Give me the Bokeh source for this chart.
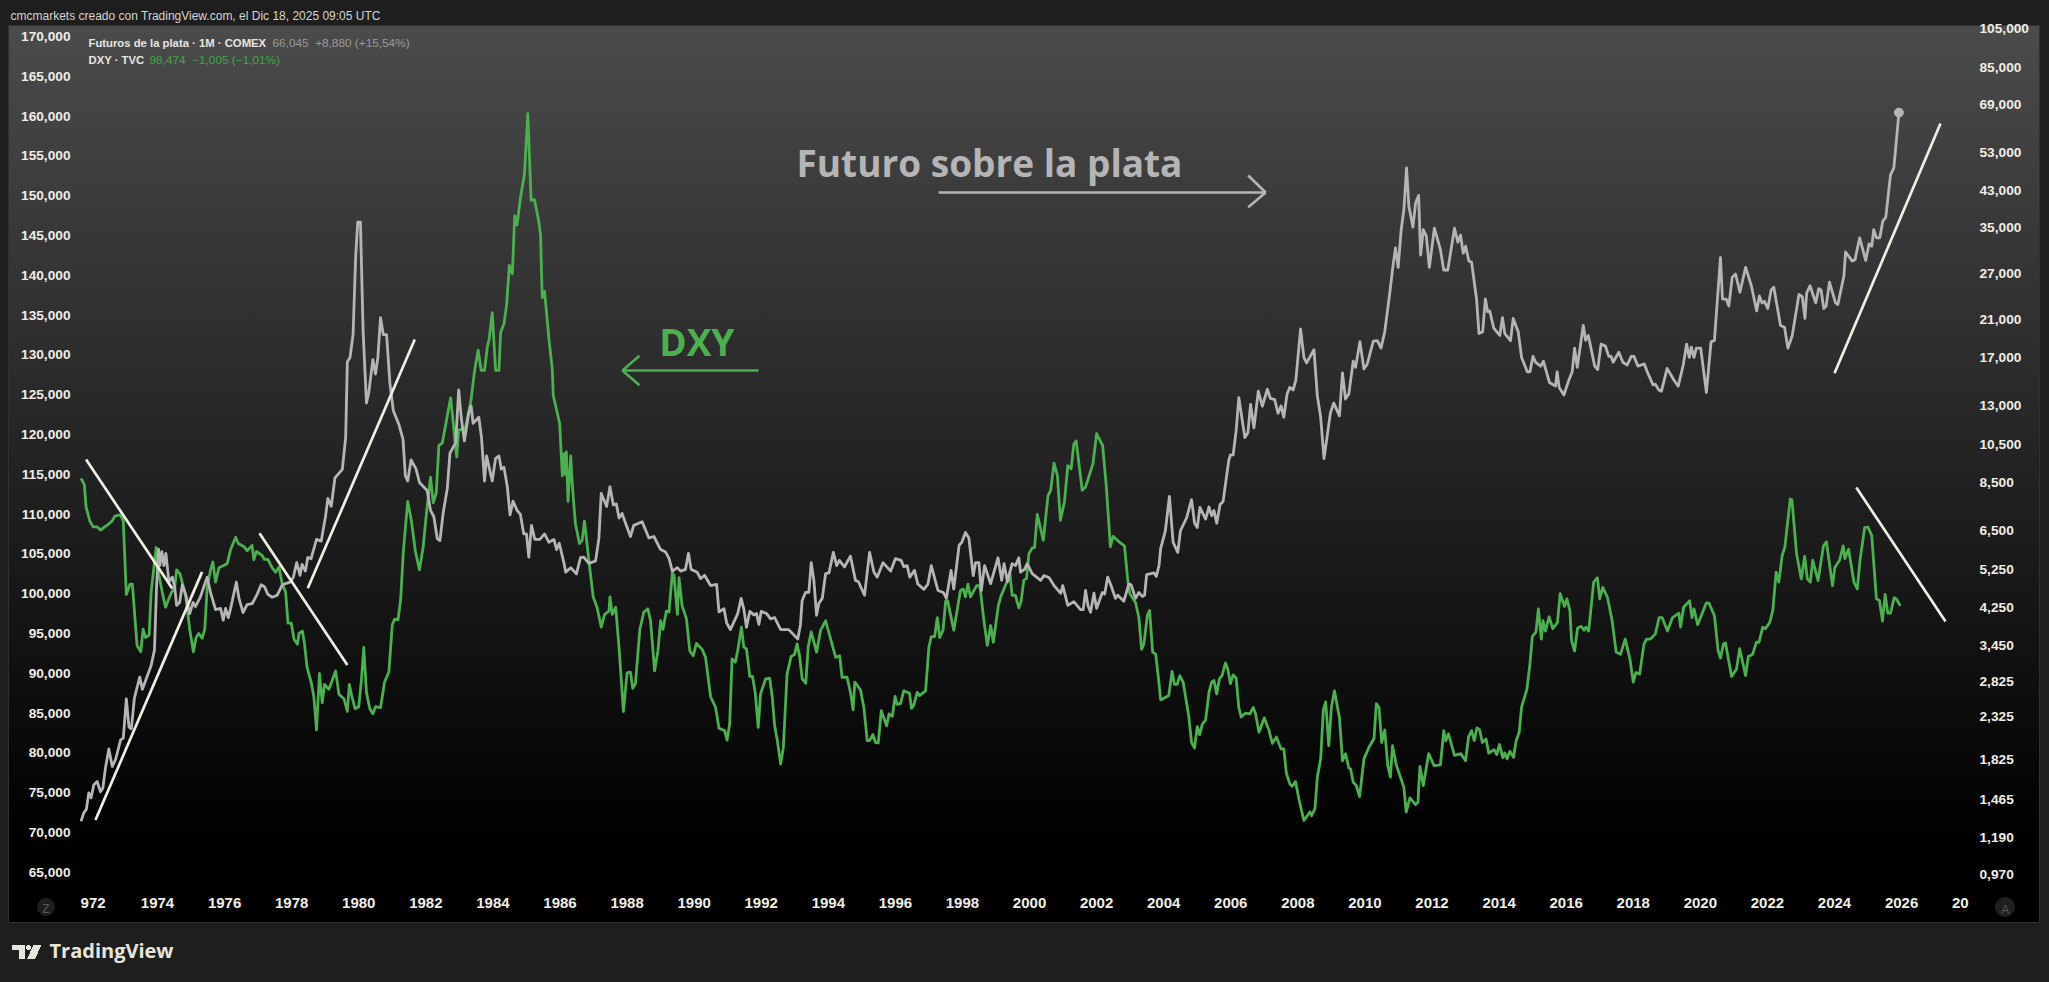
from bokeh.plotting import figure
from bokeh.models import (Range1d, LinearAxis, LogAxis, LogScale, FixedTicker, Label)
from bokeh.core.properties import value
from bokeh.embed import file_html
from bokeh.resources import INLINE

silver_points = [
(1971.72,1.30),(1971.80,1.36),(1971.88,1.39),(1971.95,1.52),(1972.02,1.48),(1972.10,1.59),(1972.20,1.62),(1972.30,1.53),(1972.37,1.56),(1972.45,1.75),(1972.55,1.94),(1972.65,1.76),(1972.75,1.83),(1972.90,2.04),(1972.98,2.06),(1973.07,2.56),(1973.15,2.19),(1973.22,2.17),(1973.31,2.57),(1973.47,2.89),(1973.55,2.70),(1973.67,2.87),(1973.81,3.08),(1973.91,3.36),(1973.97,4.75),(1974.03,5.87),(1974.07,5.36),(1974.13,5.79),(1974.19,5.36),(1974.25,5.74),(1974.34,4.90),(1974.44,5.03),(1974.51,4.77),(1974.57,4.30),(1974.66,4.37),(1974.74,4.82),(1974.84,4.57),(1974.96,4.11),(1975.06,4.37),(1975.13,4.27),(1975.28,4.51),(1975.48,5.03),(1975.58,4.62),(1975.73,4.20),(1975.88,4.23),(1975.96,3.96),(1976.03,4.23),(1976.11,4.02),(1976.18,4.23),(1976.35,4.89),(1976.43,4.47),(1976.55,4.13),(1976.67,4.32),(1976.82,4.34),(1976.97,4.57),(1977.09,4.82),(1977.19,4.77),(1977.29,4.57),(1977.42,4.50),(1977.57,4.55),(1977.72,4.82),(1977.97,4.90),(1978.05,5.03),(1978.15,5.45),(1978.25,5.08),(1978.31,5.40),(1978.41,5.20),(1978.48,5.61),(1978.58,5.57),(1978.74,6.20),(1978.88,6.14),(1979.01,7.05),(1979.08,7.78),(1979.18,7.45),(1979.29,8.72),(1979.51,9.14),(1979.61,10.9),(1979.66,16.6),(1979.74,17.0),(1979.83,19.3),(1979.91,30.0),(1979.97,36.0),(1980.05,36.0),(1980.13,19.7),(1980.23,13.2),(1980.30,14.0),(1980.42,16.8),(1980.50,15.5),(1980.57,17.0),(1980.65,21.2),(1980.73,19.3),(1980.83,19.3),(1980.93,14.7),(1981.03,12.67),(1981.20,11.7),(1981.32,10.8),(1981.39,8.81),(1981.46,8.57),(1981.56,9.63),(1981.71,9.15),(1981.81,8.50),(1982.04,8.13),(1982.14,7.28),(1982.24,7.03),(1982.34,6.23),(1982.42,6.16),(1982.52,7.2),(1982.64,8.22),(1982.72,10.0),(1982.89,10.6),(1982.98,14.2),(1983.06,12.1),(1983.15,10.7),(1983.28,12.5),(1983.35,13.0),(1983.41,11.8),(1983.58,12.2),(1983.66,10.9),(1983.75,8.57),(1983.81,9.85),(1983.98,8.57),(1984.08,9.72),(1984.18,9.85),(1984.25,9.15),(1984.33,9.25),(1984.43,8.3),(1984.51,7.1),(1984.60,7.66),(1984.72,7.28),(1984.82,7.12),(1984.92,6.39),(1985.00,6.39),(1985.07,5.62),(1985.15,6.7),(1985.25,6.2),(1985.40,6.2),(1985.54,6.39),(1985.67,6.1),(1985.82,6.2),(1985.90,5.86),(1985.98,6.07),(1986.12,5.43),(1986.17,5.17),(1986.32,5.3),(1986.49,5.12),(1986.61,5.6),(1986.71,5.62),(1986.86,5.43),(1987.06,5.5),(1987.16,6.23),(1987.23,8.0),(1987.39,7.44),(1987.49,8.3),(1987.59,7.5),(1987.68,7.55),(1987.76,6.98),(1987.85,7.16),(1988.10,6.3),(1988.20,6.7),(1988.45,6.84),(1988.65,6.25),(1988.80,6.3),(1989.00,5.86),(1989.15,5.78),(1989.25,5.58),(1989.35,5.2),(1989.50,5.3),(1989.60,5.2),(1989.74,5.25),(1989.83,5.74),(1989.91,5.25),(1990.09,5.17),(1990.19,4.99),(1990.31,5.08),(1990.49,4.8),(1990.67,4.83),(1990.74,4.15),
(1990.89,4.22),(1990.97,3.9),(1991.08,3.76),(1991.30,4.11),(1991.40,4.47),(1991.48,4.22),(1991.56,3.81),(1991.66,4.16),(1991.78,4.08),(1991.86,4.11),(1991.93,3.87),(1992.00,4.16),(1992.16,4.11),(1992.28,3.99),(1992.40,4.02),(1992.58,3.76),(1992.82,3.76),(1993.09,3.57),(1993.17,3.87),(1993.22,4.42),(1993.32,4.62),(1993.42,4.62),(1993.49,5.45),(1993.57,4.94),(1993.65,4.07),(1993.72,4.35),(1993.82,4.47),(1993.92,5.13),(1994.02,5.15),(1994.15,5.77),(1994.25,5.36),(1994.33,5.52),(1994.48,5.32),(1994.66,5.65),(1994.81,4.94),(1994.90,4.9),(1995.08,4.55),(1995.23,5.77),(1995.36,5.17),(1995.46,5.03),(1995.63,5.45),(1995.86,5.2),(1996.00,5.57),(1996.17,5.52),(1996.25,5.33),(1996.35,5.36),(1996.43,5.03),(1996.57,5.22),(1996.67,4.84),(1996.85,4.7),(1996.97,4.84),(1997.07,5.36),(1997.27,4.67),(1997.43,4.62),(1997.52,4.47),(1997.66,5.22),(1997.74,4.71),(1997.90,6.0),(1997.98,6.1),(1998.09,6.44),(1998.19,6.25),(1998.32,5.07),(1998.39,5.45),(1998.49,5.45),(1998.56,4.67),(1998.66,5.36),(1998.84,4.85),(1999.06,5.6),(1999.17,4.94),(1999.24,5.42),(1999.34,4.9),(1999.48,5.42),(1999.58,5.36),(1999.68,5.6),(1999.73,5.17),(1999.85,5.25),(1999.93,5.42),(2000.08,5.13),(2000.33,4.94),(2000.43,5.07),(2000.58,5.02),(2000.73,4.8),(2000.93,4.6),
(2000.99,4.8),(2001.14,4.3),(2001.32,4.39),(2001.52,4.2),(2001.60,4.2),(2001.67,4.67),(2001.74,4.3),(2001.82,4.14),(2001.92,4.6),(2002.00,4.23),(2002.17,4.62),(2002.24,4.58),(2002.33,5.03),(2002.43,4.8),(2002.56,4.47),(2002.63,4.55),(2002.81,4.4),(2002.96,4.84),(2003.03,4.82),(2003.16,4.47),(2003.26,4.62),(2003.36,4.52),(2003.43,4.55),(2003.49,5.1),(2003.71,5.15),(2003.78,5.05),(2003.86,5.36),(2003.91,5.9),(2004.05,6.51),(2004.17,7.87),(2004.28,6.1),(2004.42,5.77),(2004.50,6.51),(2004.68,6.98),(2004.83,7.73),(2004.92,6.78),(2005.00,6.62),(2005.08,7.4),(2005.25,6.94),(2005.35,7.42),(2005.43,7.07),(2005.50,7.28),(2005.58,6.78),(2005.68,7.52),(2005.77,7.65),(2005.94,9.61),(2005.99,9.9),(2006.07,9.9),(2006.16,11.34),
(2006.24,13.6),(2006.42,10.9),(2006.51,11.2),(2006.59,13.1),(2006.69,11.5),(2006.82,14.1),(2006.94,12.97),(2007.09,14.25),(2007.18,13.55),(2007.31,13.45),(2007.41,12.47),(2007.50,13.0),(2007.58,12.2),(2007.68,13.9),(2007.76,14.4),(2007.86,14.2),(2007.94,15.0),(2008.08,19.9),(2008.18,17.0),(2008.26,16.5),(2008.48,17.75),(2008.58,13.75),(2008.68,12.2),(2008.78,9.7),(2008.97,12.5),(2009.07,13.2),(2009.24,12.3),(2009.33,15.6),(2009.42,13.5),(2009.52,13.9),(2009.65,16.65),(2009.72,16.1),(2009.85,18.55),(2009.97,15.95),(2010.07,16.4),(2010.25,18.6),(2010.37,18.65),(2010.48,17.9),(2010.59,19.6),(2010.74,24.3),(2010.83,28.0),(2010.91,31.2),(2010.99,28.0),(2011.08,34.5),(2011.16,38.5),(2011.24,48.6),(2011.31,39.3),(2011.43,35.0),(2011.51,40.0),(2011.60,41.7),(2011.66,30.0),(2011.74,34.5),(2011.83,33.3),(2011.92,28.0),(2012.07,34.8),(2012.25,30.9),(2012.35,27.6),(2012.47,27.6),(2012.67,34.8),(2012.77,32.2),(2012.85,33.5),(2012.93,30.3),(2013.00,31.5),(2013.10,29.0),(2013.18,28.8),(2013.33,23.4),(2013.40,19.4),(2013.51,19.6),(2013.59,23.5),(2013.66,21.9),(2013.72,22.0),(2013.84,20.0),(2014.02,19.2),(2014.10,21.2),(2014.17,19.4),(2014.34,18.65),(2014.42,21.1),(2014.57,19.6),(2014.67,17.0),(2014.84,15.7),(2014.92,15.7),(2015.01,17.1),(2015.09,16.55),(2015.24,16.2),(2015.32,16.65),(2015.50,14.8),(2015.68,14.5),(2015.73,15.7),(2015.79,14.4),(2015.93,13.8),
(2016.08,15.0),(2016.18,15.7),(2016.25,17.9),(2016.33,16.1),(2016.51,20.3),(2016.58,18.7),(2016.66,19.2),(2016.85,16.2),(2016.94,15.9),(2017.04,18.3),(2017.17,18.1),(2017.27,17.1),(2017.34,17.1),(2017.40,16.55),(2017.57,17.5),(2017.69,16.55),(2017.82,16.3),(2017.94,17.1),(2018.02,17.1),(2018.14,16.2),(2018.33,16.4),(2018.43,15.6),(2018.59,14.6),(2018.66,14.65),(2018.76,14.2),(2018.84,14.1),(2019.01,16.0),(2019.21,15.0),(2019.34,14.5),(2019.49,16.3),(2019.59,18.3),(2019.67,17.0),(2019.73,18.0),(2019.81,17.0),(2019.88,17.9),(2020.01,17.9),(2020.18,14.0),(2020.32,18.55),(2020.42,18.65),(2020.60,29.6),(2020.66,23.5),(2020.77,23.5),(2020.85,22.6),(2020.95,26.5),(2021.05,27.0),(2021.18,24.4),(2021.35,28.0),(2021.52,25.3),(2021.68,22.0),(2021.76,23.9),(2021.84,23.0),(2021.91,23.2),(2022.01,22.3),(2022.11,24.7),(2022.19,25.1),(2022.39,20.3),(2022.51,20.1),(2022.61,17.9),(2022.74,19.2),(2022.94,24.1),(2023.04,23.8),(2023.12,21.1),(2023.17,24.3),(2023.27,25.3),(2023.44,23.0),(2023.53,24.9),(2023.60,24.7),(2023.68,22.3),(2023.75,22.6),(2023.85,25.8),(2024.03,23.0),(2024.10,22.8),(2024.28,26.7),(2024.33,30.5),(2024.53,29.0),(2024.61,29.2),(2024.75,33.0),(2024.93,29.1),(2025.03,31.9),(2025.11,31.5),(2025.17,34.5),(2025.25,33.0),(2025.35,33.0),(2025.44,36.2),(2025.53,37.0),(2025.67,46.8),(2025.77,48.6),(2025.92,66.045),
]

dxy_points = [
(1971.72,114.5),(1971.82,113.66),(1971.87,110.9),(1971.98,109.15),(1972.08,108.4),(1972.20,108.4),(1972.30,108.0),(1972.50,108.6),(1972.65,109.15),(1972.73,109.76),(1972.90,109.9),(1972.98,109.15),(1973.07,99.9),(1973.18,101.2),(1973.25,101.2),(1973.39,93.5),(1973.50,92.7),(1973.57,95.55),(1973.64,94.5),(1973.75,94.8),(1973.81,100.2),(1973.96,105.8),(1974.01,103.0),(1974.14,100.2),(1974.24,98.3),(1974.42,100.2),(1974.51,100.7),(1974.57,103.0),(1974.67,102.5),(1974.84,99.7),(1974.96,95.55),(1975.07,92.7),(1975.15,94.5),(1975.23,95.0),(1975.33,94.4),(1975.41,95.55),(1975.48,100.7),(1975.58,103.0),(1975.65,104.0),(1975.73,101.45),(1975.83,103.25),(1975.96,103.5),(1976.08,103.8),(1976.18,105.55),(1976.33,107.1),(1976.41,106.3),(1976.58,105.9),(1976.67,105.4),(1976.82,106.07),(1976.87,104.27),(1976.95,105.3),(1977.12,104.8),(1977.19,104.3),(1977.29,104.3),(1977.42,103.25),(1977.52,102.7),(1977.62,103.35),(1977.72,101.2),(1977.82,100.2),(1977.89,96.3),(1977.99,96.3),(1978.07,94.27),(1978.17,93.65),(1978.22,95.0),(1978.32,95.3),(1978.38,93.8),(1978.46,90.7),(1978.58,88.9),(1978.66,87.1),(1978.74,82.9),(1978.83,90.0),(1978.91,86.3),(1978.98,88.6),(1979.11,88.0),(1979.31,90.3),(1979.41,87.35),(1979.56,86.8),(1979.66,85.2),(1979.72,88.6),(1979.78,87.35),(1979.89,85.55),(1980.00,85.8),(1980.08,89.15),(1980.15,93.25),(1980.23,87.6),(1980.33,85.55),(1980.42,84.9),(1980.50,85.8),(1980.65,85.7),(1980.77,88.9),(1980.90,90.2),(1981.00,96.1),(1981.07,96.8),(1981.17,96.7),(1981.25,99.3),(1981.33,105.3),(1981.46,111.6),(1981.56,109.4),(1981.69,105.3),(1981.81,103.0),(1981.92,105.85),(1982.02,110.2),(1982.14,114.6),(1982.22,111.4),(1982.31,112.65),(1982.39,118.65),(1982.49,118.9),(1982.74,124.6),(1982.92,117.2),(1982.98,120.55),(1983.18,120.8),(1983.35,124.4),(1983.45,127.9),(1983.56,130.6),(1983.65,128.05),(1983.75,128.05),(1983.83,130.9),(1983.89,132.0),(1983.98,135.3),(1984.08,128.05),(1984.18,128.05),(1984.23,132.8),(1984.33,133.9),(1984.41,136.35),(1984.49,141.25),(1984.58,140.2),(1984.65,147.5),(1984.72,146.3),(1984.82,149.7),(1984.94,152.7),(1985.04,160.3),(1985.14,149.4),(1985.24,149.5),(1985.37,146.7),(1985.42,145.1),(1985.47,137.2),(1985.54,138.0),(1985.67,132.0),(1985.77,128.2),(1985.80,124.9),(1985.92,122.7),(1985.99,121.4),(1986.07,114.8),(1986.12,117.6),(1986.16,115.0),(1986.19,117.8),(1986.24,111.6),(1986.32,117.3),(1986.37,113.5),(1986.46,108.8),(1986.58,106.3),(1986.66,106.7),(1986.73,109.1),(1986.86,104.2),(1986.99,99.6),(1987.11,98.2),(1987.23,95.8),(1987.33,97.4),(1987.46,97.8),(1987.49,99.6),(1987.56,97.4),(1987.66,98.3),(1987.76,93.3),(1987.89,85.2),(1988.00,90.05),(1988.10,90.15),(1988.17,88.1),(1988.25,88.7),(1988.38,95.5),(1988.50,97.7),(1988.62,98.1),(1988.70,96.6),(1988.82,90.3),(1988.92,92.8),(1989.00,96.6),(1989.07,95.5),(1989.17,97.8),(1989.25,97.7),(1989.35,102.6),(1989.40,102.3),(1989.50,97.4),(1989.55,102.0),(1989.64,98.5),(1989.77,96.85),(1989.87,92.8),(1989.97,92.2),(1990.07,93.75),(1990.24,93.0),(1990.34,92.0),(1990.49,87.05),(1990.64,85.7),(1990.74,83.1),
(1990.91,82.8),(1990.98,81.6),(1991.06,83.65),(1991.13,91.8),(1991.23,91.4),(1991.30,92.9),(1991.41,95.8),(1991.48,93.3),(1991.56,93.07),(1991.66,89.6),(1991.74,89.6),(1991.82,87.6),(1991.91,83.2),(1991.98,87.4),(1992.13,89.3),(1992.25,89.4),(1992.33,87.0),(1992.40,83.4),(1992.48,81.55),(1992.58,78.6),(1992.66,80.7),(1992.77,89.9),(1992.89,92.1),(1992.99,92.35),(1993.07,93.7),(1993.15,92.0),(1993.22,89.3),(1993.33,88.75),(1993.40,93.3),(1993.49,95.2),(1993.65,92.65),(1993.77,95.4),(1993.92,96.6),(1994.07,94.3),(1994.22,92.0),(1994.34,92.2),(1994.41,89.5),(1994.56,89.5),(1994.66,87.6),(1994.74,85.4),(1994.79,88.9),(1994.96,87.9),(1995.06,85.7),(1995.16,81.55),(1995.23,81.55),(1995.33,82.3),(1995.41,81.3),(1995.49,81.25),(1995.58,85.3),(1995.74,83.4),(1995.81,84.9),(1995.91,84.6),(1995.99,87.1),(1996.05,86.1),(1996.15,86.2),(1996.25,87.8),(1996.42,87.5),(1996.48,85.6),(1996.55,86.0),(1996.65,87.6),(1996.72,87.2),(1996.90,87.8),(1997.00,93.3),(1997.07,94.6),(1997.17,94.6),(1997.25,97.0),(1997.32,94.5),(1997.42,95.4),(1997.50,99.1),(1997.56,99.1),(1997.74,95.4),(1997.94,100.4),(1998.02,100.6),(1998.09,99.6),(1998.16,101.2),(1998.24,99.6),(1998.42,101.0),(1998.52,101.0),(1998.64,96.6),(1998.74,93.5),(1998.84,96.0),(1998.92,93.9),(1999.07,98.5),(1999.14,99.6),(1999.34,101.65),(1999.41,102.7),(1999.48,99.8),(1999.58,99.8),(1999.68,98.2),(1999.75,99.1),(1999.83,101.7),(1999.91,101.9),(1999.98,105.0),(2000.08,105.75),(2000.15,105.8),(2000.23,109.95),(2000.41,106.7),(2000.55,112.3),(2000.63,113.0),(2000.73,116.4),(2000.83,114.85),(2000.92,109.2),
(2001.04,111.5),(2001.14,116.1),(2001.24,115.7),(2001.32,118.8),(2001.39,119.2),(2001.57,113.0),(2001.67,113.4),(2001.89,116.3),(2002.00,120.1),(2002.18,118.6),(2002.29,113.4),(2002.41,105.9),(2002.49,107.2),(2002.66,106.55),(2002.83,106.0),(2002.93,101.65),(2002.99,100.0),(2003.16,98.9),(2003.26,97.0),(2003.34,93.0),(2003.41,93.7),(2003.51,97.25),(2003.58,97.9),(2003.67,92.65),(2003.76,92.4),(2003.83,89.9),(2003.91,86.65),(2004.15,87.2),(2004.25,90.25),(2004.32,88.6),(2004.40,88.6),(2004.48,89.7),(2004.58,88.9),(2004.75,84.5),(2004.83,81.3),(2004.92,80.6),(2005.00,83.3),(2005.07,82.3),(2005.15,83.6),(2005.25,84.15),(2005.35,87.6),(2005.43,88.9),(2005.50,89.1),(2005.58,87.4),(2005.66,89.3),(2005.74,89.7),(2005.84,91.3),(2005.91,90.55),(2005.99,88.7),(2006.07,89.8),(2006.16,89.4),(2006.24,85.7),(2006.31,84.5),(2006.44,85.0),(2006.57,84.9),(2006.67,85.7),(2006.74,84.9),(2006.84,82.6),(2007.00,84.4),(2007.14,82.8),(2007.24,81.2),(2007.36,82.0),(2007.50,80.5),(2007.58,80.5),(2007.66,77.4),(2007.76,76.1),(2007.83,75.8),(2007.93,76.4),(2008.03,74.2),(2008.18,71.5),(2008.28,72.1),(2008.36,72.6),(2008.41,72.1),(2008.51,73.0),(2008.58,76.95),(2008.68,79.25),(2008.76,85.4),(2008.83,86.4),(2008.92,80.9),(2009.00,85.7),(2009.09,87.8),(2009.24,84.4),(2009.33,79.0),(2009.42,79.9),(2009.52,78.1),(2009.57,78.0),(2009.65,76.3),(2009.74,75.9),(2009.84,74.5),(2009.97,79.25),(2010.12,80.7),(2010.27,81.8),(2010.34,86.2),(2010.42,85.7),(2010.50,81.3),
(2010.59,82.9),(2010.68,78.4),(2010.76,76.95),(2010.82,80.9),(2010.94,78.4),(2011.16,75.7),(2011.23,72.55),(2011.34,74.35),(2011.51,73.5),(2011.58,73.8),(2011.64,78.3),(2011.74,75.9),(2011.90,79.9),(2012.06,78.4),(2012.25,78.5),(2012.35,82.8),(2012.41,81.5),(2012.49,82.4),(2012.67,79.7),(2012.86,79.9),(2013.00,79.0),(2013.09,82.0),(2013.18,82.8),(2013.26,81.55),(2013.34,83.15),(2013.42,82.9),(2013.50,81.3),(2013.61,81.75),(2013.69,79.96),(2013.85,80.4),(2013.93,79.8),(2014.01,81.05),(2014.11,79.4),(2014.17,80.0),(2014.24,79.25),(2014.32,80.2),(2014.43,79.45),(2014.51,81.55),(2014.60,82.6),(2014.67,85.75),(2014.83,88.0),(2014.92,91.2),(2014.99,94.6),(2015.10,95.2),(2015.17,98.1),(2015.26,94.3),(2015.31,96.6),(2015.38,95.3),(2015.49,97.1),(2015.60,95.6),(2015.74,96.4),(2015.82,100.0),(2015.95,98.4),(2016.02,99.35),(2016.11,97.9),(2016.16,94.1),(2016.25,92.8),(2016.34,95.7),(2016.45,95.9),(2016.53,95.4),(2016.59,95.8),(2016.67,95.3),(2016.82,101.45),(2016.93,102.0),(2017.00,99.35),(2017.09,100.8),(2017.23,99.55),(2017.37,96.6),(2017.49,92.65),(2017.62,92.4),(2017.76,94.3),(2017.90,91.8),(2018.00,88.9),(2018.08,90.1),(2018.19,89.9),(2018.32,93.7),(2018.40,94.3),(2018.51,94.3),(2018.66,94.95),(2018.77,97.0),(2018.86,97.0),(2019.02,95.3),(2019.17,97.0),(2019.36,97.55),(2019.41,95.8),(2019.50,98.3),(2019.68,99.1),(2019.75,97.0),(2019.81,98.1),(2019.92,96.1),(2020.18,98.85),(2020.26,98.8),(2020.42,97.25),(2020.53,92.85),(2020.60,91.9),(2020.69,93.7),(2020.75,93.8),(2020.93,89.6),(2021.08,90.55),(2021.17,93.1),(2021.35,89.7),(2021.43,92.1),(2021.56,92.4),(2021.67,93.9),(2021.75,93.9),(2021.86,95.8),(2021.94,95.6),(2022.07,96.4),(2022.16,97.9),(2022.26,102.7),(2022.34,101.45),(2022.44,104.8),(2022.52,105.85),(2022.68,111.9),(2022.73,111.8),(2022.87,105.0),(2023.01,101.85),(2023.11,104.7),(2023.19,101.85),(2023.28,101.45),(2023.35,104.2),(2023.51,101.65),(2023.67,106.0),(2023.76,106.5),(2023.94,101.0),(2024.01,103.3),(2024.15,104.2),(2024.26,106.0),(2024.31,104.4),(2024.42,105.6),(2024.58,101.45),(2024.68,100.6),(2024.76,104.2),(2024.90,108.3),(2025.00,108.35),(2025.11,107.3),(2025.25,99.35),(2025.34,99.15),(2025.43,96.55),(2025.51,99.9),(2025.59,97.55),(2025.67,97.55),(2025.78,99.5),(2025.85,99.3),(2025.96,98.474),
]

trend_starts = [(1971.87,116.86),(1972.15,71.56),(1977.04,107.6),(1978.48,100.68),(2024.0,127.7),(2024.65,113.34)]
trend_ends   = [(1974.44,100.65),(1975.33,102.74),(1979.66,91.04),(1981.67,131.93),(2027.16,159.07),(2027.31,96.5)]
silver_arrow = [[(1997.29,150.4),(2007.04,150.4)],[(2006.52,152.54),(2007.04,150.4)],[(2006.52,148.56),(2007.04,150.4)]]
dxy_arrow    = [[(1991.92,128.04),(1987.86,128.04)],[(1988.37,129.9),(1987.86,128.04)],[(1988.37,126.2),(1987.86,128.04)]]

left_ticks = [170,165,160,155,150,145,140,135,130,125,120,115,110,105,100,95,90,85,80,75,70,65]
right_ticks = [105,85,69,53,43,35,27,21,17,13,10.5,8.5,6.5,5.25,4.25,3.45,2.825,2.325,1.825,1.465,1.19,0.97]
year_ticks = [1972.08]+list(range(1974,2028,2))+[2027.75]
year_labels = ["972"]+[str(y) for y in range(1974,2028,2)]+["20"]

BG = "#1e1e1e"; SILVER = "#b5b5b5"; GREEN = "#4caf50"; CREAM = "#efeee0"; TXT = "#efeee6"; LOGO = "#e8e6da"
FONT = "Liberation Sans"

FL, FR, FT, FB = 74, 1968, 26, 892

def rect(px, py, w, h, c):
    return f"linear-gradient({c},{c}) {px-8}px {py-8}px / {w}px {h}px no-repeat"
def disc(cx, cy, r, c):
    return (f"radial-gradient(circle {r}px at {r}px {r}px,{c} 97%,transparent 100%) "
            f"{cx-r-8}px {cy-r-8}px / {2*r}px {2*r}px no-repeat")

panel_css = ",".join([
    rect(12, 945, 13, 5, LOGO), rect(19, 945, 6, 14, LOGO),
    disc(29, 947.5, 2.6, LOGO),
    f"linear-gradient(114deg,transparent 30.7%,{LOGO} 30.7%,{LOGO} 69.3%,transparent 69.3%) 19px 937px / 14.5px 14px no-repeat",
    disc(45.5, 906.5, 9, BG), disc(2004.7, 906.5, 10, BG),
    "linear-gradient(180deg,#4b4b4b 0%,#000 91%) 1px 18px / 2030px 896px no-repeat",
    "linear-gradient(#303030,#303030) 0px 17px / 2032px 898px no-repeat",
])

p = figure(width=2033, height=966, output_backend="svg", toolbar_location=None,
           x_range=Range1d(1971.525, 2027.995), y_range=Range1d(62.46, 171.256),
           min_border_left=FL-8, min_border_right=2041-FR, min_border_top=FT-8, min_border_bottom=974-FB,
           x_axis_type=None, y_axis_type=None, outline_line_color=None,
           border_fill_alpha=0, background_fill_alpha=0)
p.styles = {"background": panel_css}
p.grid.visible = False
p.extra_y_ranges = {"silver": Range1d(0.8755, 106.46)}
p.extra_y_scales = {"silver": LogScale()}

def style(ax, size="13.7px", weight="bold", standoff=4):
    ax.axis_line_color = None
    ax.major_tick_line_color = None
    ax.minor_tick_line_color = None
    ax.major_tick_out = 0
    ax.minor_tick_out = 0
    ax.major_label_text_color = TXT
    ax.major_label_text_font = FONT
    ax.major_label_text_font_size = size
    ax.major_label_text_font_style = weight
    ax.major_label_standoff = standoff

la = LinearAxis(ticker=FixedTicker(ticks=left_ticks),
                major_label_overrides={t: f"{t:.3f}".replace(".", ",") for t in left_ticks})
style(la, standoff=4); p.add_layout(la, "left")
ra = LogAxis(y_range_name="silver", ticker=FixedTicker(ticks=right_ticks),
             major_label_overrides={t: f"{t:.3f}".replace(".", ",") for t in right_ticks})
style(ra, standoff=11); p.add_layout(ra, "right")
ba = LinearAxis(ticker=FixedTicker(ticks=year_ticks),
                major_label_overrides=dict(zip(year_ticks, year_labels)))
style(ba, size="15px", standoff=5); p.add_layout(ba, "below")

p.line([d[0] for d in dxy_points], [d[1] for d in dxy_points], line_color=GREEN, line_width=2.8, line_join="round")
p.line([s[0] for s in silver_points], [s[1] for s in silver_points], y_range_name="silver",
       line_color=SILVER, line_width=2.8, line_join="round")
p.scatter([silver_points[-1][0]], [silver_points[-1][1]], y_range_name="silver", size=9,
          fill_color=SILVER, line_color=SILVER)

p.segment([a[0] for a in trend_starts], [a[1] for a in trend_starts],
          [b[0] for b in trend_ends], [b[1] for b in trend_ends], line_color=CREAM, line_width=2.7)
for arrow, col in ((silver_arrow, SILVER), (dxy_arrow, GREEN)):
    for seg in arrow:
        p.line([seg[0][0], seg[1][0]], [seg[0][1], seg[1][1]], line_color=col, line_width=2.6)

p.text([1993.05], [154.17], text=["Futuro sobre la plata"], text_color=SILVER, text_font=value("Open Sans"),
       text_font_size="37px", text_font_style="bold", text_baseline="middle")
p.text([1988.96], [131.68], text=["DXY"], text_color=GREEN, text_font=value("Open Sans"),
       text_font_size="37px", text_font_style="bold", text_baseline="middle")

def lab(px, py, text, color, size="12px", font=FONT, style_="normal", align="left", side=None, oy=0):
    base = FB if side is None else oy
    l = Label(x=px-FL, y=base-py, x_units="screen", y_units="screen", text=text, text_color=color,
              text_font=font, text_font_size=size, text_font_style=style_,
              text_baseline="middle", text_align=align)
    if side is None:
        p.add_layout(l)
    else:
        p.add_layout(l, side)

lab(88, 42, "Futuros de la plata · 1M · COMEX", "#e6e6e0", "11.3px", style_="bold")
lab(272, 42, "66,045\u00a0\u00a0+8,880 (+15,54%)", "#9a9a9a", "11.8px")
lab(88, 59, "DXY · TVC", "#e6e6e0", "11.3px", style_="bold")
lab(149, 59, "98,474\u00a0\u00a0−1,005 (−1,01%)", "#39a845", "11.8px")

# outside the frame: side-placed labels stack below the axis, each with its own origin
lab(10, 15, "cmcmarkets creado con TradingView.com, el Dic 18, 2025 09:05 UTC", "#d5d5d0", "12px", side="above", oy=26)
lab(49, 947, "TradingView", LOGO, "20px", font="Open Sans", style_="bold", side="below", oy=934)
lab(45.5, 906.5, "Z", "#5a5a5a", "12px", align="center", side="below", oy=949)
lab(2004.7, 906.5, "A", "#5a5a5a", "12px", align="center", side="below", oy=962)

html = file_html(p, INLINE)
html = html.replace("</head>", "<style>html,body{background:#1e1e1e}body{margin:8px !important}</style></head>", 1)
open("out.html", "w").write(html)
